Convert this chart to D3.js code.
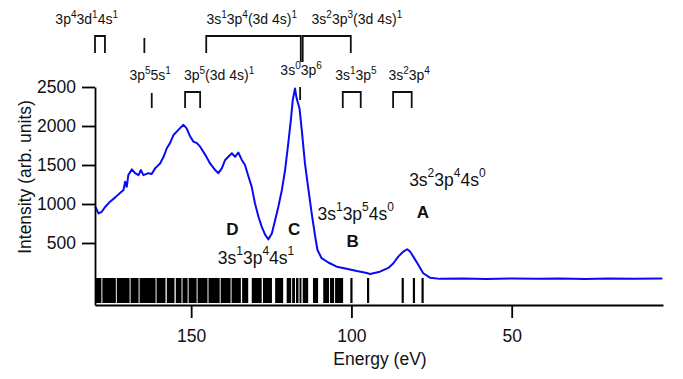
<!DOCTYPE html>
<html>
<head>
<meta charset="utf-8">
<script src="https://cdn.jsdelivr.net/npm/d3@7"></script>
<style>
  html, body { margin: 0; padding: 0; background: #fff; }
  svg { display: block; font-family: Arial, "Liberation Sans", sans-serif; }
</style>
</head>
<body>
<svg id="chart" width="683" height="379"></svg>
<script>
// spectrum
const energy = [179.9,178.9,177.9,176.8,175.3,173.7,172.1,171.1,170.6,170.1,169.6,168.5,167.5,166.4,165.7,164.9,163.3,162.3,161.2,159.7,
  158.6,157.6,156.6,155.5,154.0,152.4,151.4,150.3,149.3,148.2,147.2,145.6,144.1,142.5,141.5,140.4,139.4,138.4,137.3,136.3,
  135.3,134.2,133.2,132.1,131.1,130.1,129.0,128.0,126.9,125.9,124.8,123.8,122.8,121.7,120.7,119.7,118.9,118.3,117.6,117.1,
  116.2,115.5,114.5,113.4,112.4,111.3,110.6,109.3,107.2,104.6,101.5,98.3,95.2,94.2,91.1,88.5,86.9,85.4,83.8,82.6,
  81.7,80.7,79.1,77.6,75.5,72.4,65,58,50,42,35,27,20,12,3];
const intensity = [965,880,900,965,1030,1085,1145,1180,1285,1220,1370,1445,1395,1370,1435,1370,1395,1385,1460,1520,
  1605,1715,1780,1885,1950,2015,1970,1865,1800,1780,1735,1630,1520,1435,1395,1460,1565,1605,1650,1605,
  1660,1565,1500,1350,1220,1010,837,710,603,547,625,795,965,1180,1435,1780,2075,2335,2480,2355,
  2225,1950,1520,1180,880,580,410,305,250,196,170,140,115,103,132,180,240,325,390,420,
  390,325,218,112,55,40,45,38,46,40,44,39,45,42,44];

// calculated line positions (dense groups drawn as blocks)
const stickBlocks = [[179.9,178.0],[177.7,173.5],[173.2,169.2],[168.9,166.4],[166.1,161.1],[160.8,158.0],[157.6,155.2],
  [154.8,153.0],[152.7,151.1],[150.8,148.3],[148.0,144.9],[144.6,141.1],[140.8,137.7],[137.4,134.5],[134.1,132.2],
  [131.1,128.0],[127.6,124.8],[123.8,121.3],[120.2,118.8],[118.5,117.6],[117.3,116.5],[116.2,115.6],[115.2,113.5],
  [112.0,110.4],[108.8,107.0],[106.7,105.4],[105.1,102.6]];
const stickLines = [100.0, 94.8, 84.0, 80.5, 77.8];

// configuration markers above the plot
const row1Labels = ["3p{4}3d{1}4s{1}", "3s{1}3p{4}(3d 4s){1}", "3s{2}3p{3}(3d 4s){1}"];
const row1LabelE = [182.6, 131.1, 98.3];
const row1Brackets = [[180.0, 176.9], [145.3, 115.8], [115.2, 100.2]];
const row1Lines = [164.6];

const row2Labels = ["3p{5}5s{1}", "3p{5}(3d 4s){1}", "3s{1}3p{5}", "3s{2}3p{4}"];
const row2LabelE = [162.8, 141.3, 98.6, 82.0];
const row2Brackets = [[151.9, 147.2], [102.7, 97.1], [87.0, 81.2]];
const row2Lines = [162.3];

const groundLabel = "3s{0}3p{6}";
const groundE = 116.0;

// in-plot annotations: [energy, intensity]
const stateLabels = ["3s{2}3p{4}4s{0}", "3s{1}3p{5}4s{0}", "3s{1}3p{4}4s{1}"];
const statePos = [[82.0, 1231], [110.6, 795], [141.7, 231]];
const peakLabels = ["A", "B", "C", "D"];
const peakPos = [[77.7, 820], [99.6, 449], [117.9, 603], [137.1, 603]];

const xMajor = [150, 100, 50];
const xMinor = [180, 170, 160, 140, 130, 120, 110, 90, 80, 70, 60, 40, 30, 20, 10];
const yTicks = [500, 1000, 1500, 2000, 2500];

const svg = d3.select("#chart");
const mLeft = 95, mRight = 663, mTop = 87, mBottom = 305;

const x = d3.scaleLinear().domain([180, 2.8]).range([mLeft, mRight]);
const y = d3.scaleLinear().domain([-295, 2500]).range([mBottom, mTop]);
const ys = d3.scaleLinear().domain([0, 1]).range([303, 278]);

// superscripts written as {n}
function rich(t, str, size, supSize, rise) {
  const parts = str.split(/\{([^}]*)\}/);
  let up = false;
  parts.forEach((p, i) => {
    if (!p) return;
    const sup = i % 2 === 1;
    const ts = t.append("tspan").text(p).attr("font-size", sup ? supSize : size);
    if (sup && !up) { ts.attr("dy", -rise); up = true; }
    else if (!sup && up) { ts.attr("dy", rise); up = false; }
  });
}

// stick spectrum
svg.append("g").selectAll("rect")
  .data(stickBlocks)
  .enter().append("rect")
  .attr("x", d => x(d[0]))
  .attr("width", d => x(d[1]) - x(d[0]))
  .attr("y", ys(1))
  .attr("height", ys(0) - ys(1))
  .attr("fill", "#000");
svg.append("g").selectAll("line")
  .data(stickLines)
  .enter().append("line")
  .attr("x1", d => x(d)).attr("x2", d => x(d))
  .attr("y1", ys(1)).attr("y2", ys(0))
  .attr("stroke", "#000").attr("stroke-width", 2.2);

// spectrum line
const pts = energy.map((e, i) => [e, intensity[i]]);
svg.append("path")
  .datum(pts)
  .attr("fill", "none")
  .attr("stroke", "#0a0af5")
  .attr("stroke-width", 2)
  .attr("stroke-linejoin", "round")
  .attr("d", d3.line().x(d => x(d[0])).y(d => y(d[1])));

// axes
const axisFont = 17.5;
const gx = svg.append("g").attr("transform", "translate(0," + mBottom + ")");
gx.call(d3.axisBottom(x).tickValues(xMinor).tickSize(7).tickSizeOuter(0).tickFormat(""));
gx.call(d3.axisBottom(x).tickValues(xMajor).tickSize(13).tickSizeOuter(0).tickPadding(12).tickFormat(d3.format("d")));
const gy = svg.append("g").attr("transform", "translate(" + mLeft + ",0)");
gy.call(d3.axisLeft(y).tickValues(yTicks).tickSize(13).tickSizeOuter(0).tickPadding(6).tickFormat(d3.format("d")));
svg.selectAll(".domain, .tick line").attr("stroke", "#000").attr("stroke-width", 1.8);
svg.selectAll(".tick text").attr("font-size", axisFont).attr("fill", "#111")
  .attr("font-family", "Arial, 'Liberation Sans', sans-serif");

svg.append("text")
  .attr("x", 380).attr("y", 365)
  .attr("text-anchor", "middle")
  .attr("font-size", axisFont).attr("fill", "#111")
  .text("Energy (eV)");
svg.append("text")
  .attr("transform", "translate(25,177) rotate(-90)")
  .attr("dy", "0.35em")
  .attr("text-anchor", "middle")
  .attr("font-size", axisFont).attr("fill", "#111")
  .text("Intensity (arb. units)");

// level markers
const mk = svg.append("g").attr("fill", "none").attr("stroke", "#111").attr("stroke-width", 1.8);
const row1 = { top: 36, bottom: 53, mid: 62 };
row1Brackets.forEach((b, i) => {
  const l = i === 2 ? row1.mid : row1.bottom;
  const r = i === 1 ? row1.mid : row1.bottom;
  mk.append("path").attr("d", `M${x(b[0])},${l}V${row1.top}H${x(b[1])}V${r}`);
});
row1Lines.forEach(e => mk.append("path").attr("d", `M${x(e)},${row1.top + 2}V${row1.bottom}`));

const row2 = { top: 92, bottom: 108 };
row2Brackets.forEach(b => {
  mk.append("path").attr("d", `M${x(b[0])},${row2.bottom}V${row2.top}H${x(b[1])}V${row2.bottom}`);
});
row2Lines.forEach(e => mk.append("path").attr("d", `M${x(e)},${row2.top + 1}V${row2.bottom}`));
mk.append("path").attr("d", `M${x(groundE)},87V100`);

const lab = svg.append("g").attr("fill", "#111").attr("text-anchor", "middle");
row1Labels.forEach((s, i) => {
  rich(lab.append("text").attr("x", x(row1LabelE[i])).attr("y", 24), s, 14, 10, 6);
});
row2Labels.forEach((s, i) => {
  rich(lab.append("text").attr("x", x(row2LabelE[i])).attr("y", 80), s, 14, 10, 6);
});
rich(lab.append("text").attr("x", x(115.7)).attr("y", 75), groundLabel, 14, 10, 6);

// in-plot labels
const ann = svg.append("g").attr("fill", "#111");
stateLabels.forEach((s, i) => {
  rich(ann.append("text").attr("x", x(statePos[i][0])).attr("y", y(statePos[i][1])), s, 17.5, 12, 9);
});
peakLabels.forEach((s, i) => {
  ann.append("text")
    .attr("x", x(peakPos[i][0])).attr("y", y(peakPos[i][1]))
    .attr("text-anchor", "middle")
    .attr("font-size", 17).attr("font-weight", "bold")
    .text(s);
});
</script>
</body>
</html>
